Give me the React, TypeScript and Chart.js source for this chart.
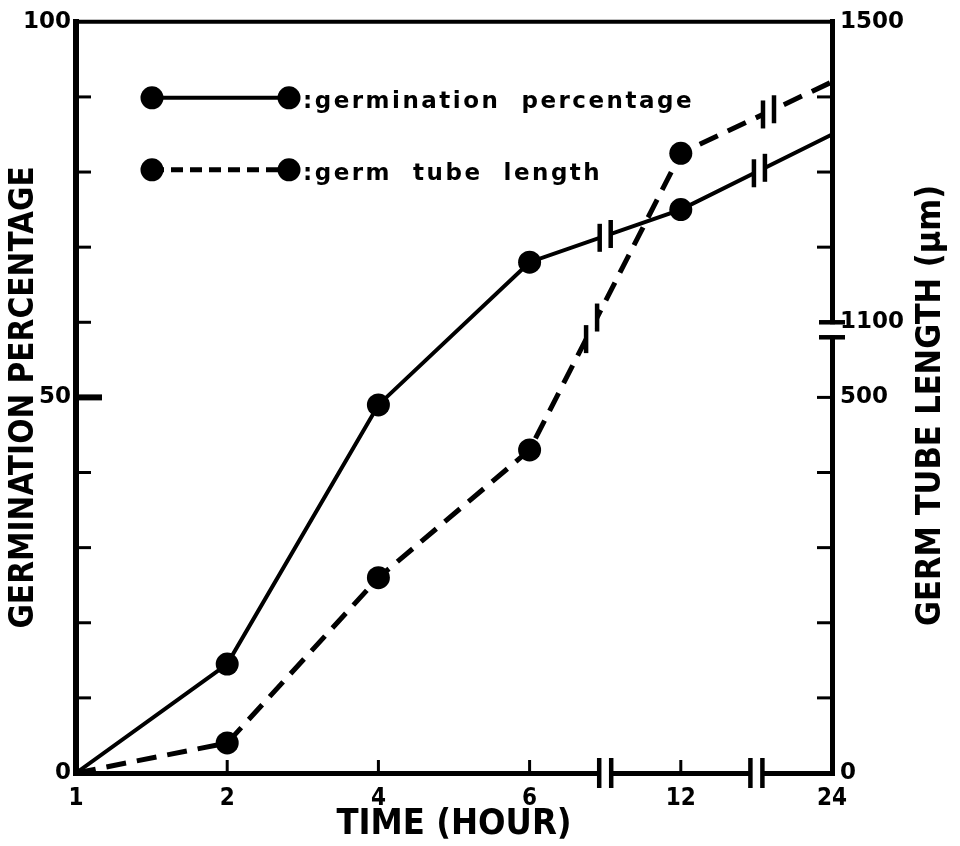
import React, { useEffect, useRef } from 'react';
import { Chart, registerables } from 'chart.js';

Chart.register(...registerables);

// ---- data ----
const hours = ['1', '2', '4', '6', '12', '24'];
const germinationPercentage = [0, 14.5, 49, 68, 75, 85];
const germTubeLength = [0, 40, 260, 430, 1325, 1420]; // µm
const percentTickLabels = [0, 50, 100];
const lengthTickLabels = [0, 500, 1100, 1500];
const lengthAxisBreak = [500, 1100]; // right axis jumps from 500 to 1100 µm
const timeAxisBreaksAfter = ['6', '12'];
const markerShown = [false, true, true, true, true, false];
const legendLabels = [':germination  percentage', ':germ  tube  length'];

// broken right axis: 100 µm per tick below 500 and above 1100
const toAxis = (v: number) =>
  v <= lengthAxisBreak[0]
    ? v / 100
    : v >= lengthAxisBreak[1]
    ? lengthAxisBreak[0] / 100 + 1 + (v - lengthAxisBreak[1]) / 100
    : lengthAxisBreak[0] / 100 + (v - lengthAxisBreak[0]) / (lengthAxisBreak[1] - lengthAxisBreak[0]);

// break marks on the curves: dataset, segment, fraction along segment
const curveBreaks = [
  { ds: 0, seg: 3, t: 0.5 },
  { ds: 0, seg: 4, t: 0.52 },
  { ds: 1, seg: 3, t: 0.41 },
  { ds: 1, seg: 4, t: 0.58 },
];

const BOLD = '"DejaVu Sans"';
const COND = '"DejaVu Sans Condensed", "DejaVu Sans"';

function seg(ctx: CanvasRenderingContext2D, x1: number, y1: number, x2: number, y2: number) {
  ctx.beginPath();
  ctx.moveTo(x1, y1);
  ctx.lineTo(x2, y2);
  ctx.stroke();
}

const decorPlugin = {
  id: 'decor',
  afterDraw(chart: any) {
    const { ctx, chartArea: a, scales } = chart;
    const xs = scales.x;
    const ys = scales.y;
    const yr = scales.y1;
    ctx.save();
    ctx.strokeStyle = '#000';
    ctx.fillStyle = '#000';
    ctx.lineCap = 'butt';

    // top frame
    ctx.lineWidth = 4;
    seg(ctx, a.left - 3, a.top, a.right + 2, a.top);

    // left inward ticks
    ys.ticks.forEach((t: any) => {
      if (t.value <= ys.min || t.value >= ys.max) return;
      const py = ys.getPixelForValue(t.value);
      const major = t.value === 50;
      ctx.lineWidth = major ? 6 : 3;
      seg(ctx, a.left, py, a.left + (major ? 26 : 15), py);
    });

    // right inward ticks
    const bp = toAxis(lengthAxisBreak[1]);
    yr.ticks.forEach((t: any) => {
      if (t.value <= yr.min || t.value >= yr.max || Math.abs(t.value - bp) < 1e-6) return;
      const py = yr.getPixelForValue(t.value);
      ctx.lineWidth = 3;
      seg(ctx, a.right, py, a.right - 15, py);
    });

    // bottom inward ticks
    xs.ticks.forEach((_t: any, i: number) => {
      if (i === 0 || i === xs.ticks.length - 1) return;
      const px = xs.getPixelForTick(i);
      ctx.lineWidth = 3;
      seg(ctx, px, a.bottom, px, a.bottom - 13);
    });

    // time axis breaks
    timeAxisBreaksAfter.forEach((h) => {
      const px = xs.getPixelForValue(hours.indexOf(h) + 0.5);
      ctx.fillStyle = '#fff';
      ctx.fillRect(px - 5, a.bottom - 4, 10, 8);
      ctx.lineWidth = 4.5;
      seg(ctx, px - 6, a.bottom - 15, px - 6, a.bottom + 15);
      seg(ctx, px + 6, a.bottom - 15, px + 6, a.bottom + 15);
    });

    // right axis break
    const pyHi = yr.getPixelForValue(bp);
    const pyLo = pyHi + 15;
    ctx.fillStyle = '#fff';
    ctx.fillRect(a.right - 4, pyHi + 2, 8, pyLo - pyHi - 4);
    ctx.lineWidth = 4.5;
    seg(ctx, a.right - 13, pyHi, a.right + 13, pyHi);
    seg(ctx, a.right - 13, pyLo, a.right + 13, pyLo);

    // curve breaks
    curveBreaks.forEach(({ ds, seg: s, t }) => {
      const pts = chart.getDatasetMeta(ds).data;
      const p0 = pts[s];
      const p1 = pts[s + 1];
      const m = (p1.y - p0.y) / (p1.x - p0.x);
      const cx = p0.x + t * (p1.x - p0.x);
      const cy = p0.y + t * (p1.y - p0.y);
      const g = 5.5;
      const yA = cy - m * g;
      const yB = cy + m * g;
      ctx.fillStyle = '#fff';
      ctx.beginPath();
      ctx.moveTo(cx - g + 1, yA - 8);
      ctx.lineTo(cx + g - 1, yB - 8);
      ctx.lineTo(cx + g - 1, yB + 8);
      ctx.lineTo(cx - g + 1, yA + 8);
      ctx.closePath();
      ctx.fill();
      ctx.lineWidth = 4.5;
      seg(ctx, cx - g, yA - 14, cx - g, yA + 14);
      seg(ctx, cx + g, yB - 14, cx + g, yB + 14);
    });

    // legend
    ctx.fillStyle = '#000';
    const lx0 = a.left + 76;
    const lx1 = a.left + 213;
    legendLabels.forEach((label, i) => {
      const ly = a.top + 76 + i * 72;
      ctx.lineWidth = i === 0 ? 4 : 5;
      ctx.setLineDash(i === 0 ? [] : [12, 7]);
      seg(ctx, lx0, ly, lx1, ly);
      ctx.setLineDash([]);
      [lx0, lx1].forEach((px) => {
        ctx.beginPath();
        ctx.arc(px, ly, 11.5, 0, Math.PI * 2);
        ctx.fill();
      });
      ctx.font = `bold 23px ${BOLD}`;
      (ctx as any).letterSpacing = '2.5px';
      ctx.textAlign = 'left';
      ctx.textBaseline = 'alphabetic';
      ctx.fillText(label, lx1 + 14, ly + 10);
      (ctx as any).letterSpacing = '0px';
    });

    // right axis title (reads bottom to top)
    ctx.translate(931, (a.top + a.bottom) / 2 + 8);
    ctx.rotate(-Math.PI / 2);
    ctx.font = `bold 34px ${COND}`;
    ctx.textAlign = 'center';
    ctx.textBaseline = 'middle';
    ctx.fillText('GERM TUBE LENGTH (µm)', 0, 0);
    ctx.restore();
  },
};

export default function App() {
  const ref = useRef<HTMLCanvasElement | null>(null);

  useEffect(() => {
    document.body.style.margin = '0';
    const canvas = ref.current;
    if (!canvas) return;
    const pointRadius = markerShown.map((s) => (s ? 11.5 : 0));
    const chart = new Chart(canvas, {
      type: 'line',
      data: {
        labels: hours,
        datasets: [
          {
            label: 'germination percentage',
            data: germinationPercentage,
            yAxisID: 'y',
            borderColor: '#000',
            backgroundColor: '#000',
            borderWidth: 4,
            pointRadius,
            pointBackgroundColor: '#000',
            pointBorderWidth: 0,
            tension: 0,
            fill: false,
          },
          {
            label: 'germ tube length',
            data: germTubeLength.map(toAxis),
            yAxisID: 'y1',
            borderColor: '#000',
            backgroundColor: '#000',
            borderWidth: 5,
            borderDash: [20, 11],
            pointRadius,
            pointBackgroundColor: '#000',
            pointBorderWidth: 0,
            tension: 0,
            fill: false,
          },
        ],
      },
      options: {
        responsive: false,
        animation: false,
        events: [],
        layout: { padding: { top: 17, left: 0, right: 0, bottom: 0 } },
        plugins: { legend: { display: false }, tooltip: { enabled: false } },
        scales: {
          x: {
            type: 'category',
            offset: false,
            grid: { display: false, drawTicks: false, lineWidth: 5 },
            border: { display: true, width: 5, color: '#000' },
            ticks: {
              color: '#000',
              padding: 11,
              maxRotation: 0,
              autoSkip: false,
              font: { family: COND, weight: 'bold', size: 24 },
            },
            title: {
              display: true,
              text: 'TIME (HOUR)',
              color: '#000',
              font: { family: COND, weight: 'bold', size: 36 },
              padding: { top: 0, bottom: 0 },
            },
            afterFit: (s: any) => {
              s.height = 73;
            },
          },
          y: {
            position: 'left',
            min: 0,
            max: 100,
            grid: { display: false, drawTicks: false, lineWidth: 5 },
            border: { display: true, width: 6, color: '#000' },
            ticks: {
              stepSize: 10,
              autoSkip: false,
              color: '#000',
              padding: 5,
              font: { family: BOLD, weight: 'bold', size: 23 },
              callback: (v: any) => (percentTickLabels.includes(Number(v)) ? String(v) : ''),
            },
            title: {
              display: true,
              text: 'GERMINATION PERCENTAGE',
              color: '#000',
              font: { family: COND, weight: 'bold', size: 33 },
              padding: { top: 5, bottom: 0 },
            },
            afterFit: (s: any) => {
              s.width = 76;
            },
          },
          y1: {
            position: 'right',
            min: 0,
            max: 10,
            grid: { display: false, drawTicks: false, lineWidth: 5 },
            border: { display: true, width: 5, color: '#000' },
            ticks: {
              stepSize: 1,
              autoSkip: false,
              color: '#000',
              padding: 8,
              font: { family: BOLD, weight: 'bold', size: 23 },
              callback: (v: any) => {
                const L = lengthTickLabels.find((l) => Math.abs(toAxis(l) - Number(v)) < 1e-6);
                return L === undefined ? '' : String(L);
              },
            },
            afterFit: (s: any) => {
              s.width = 128;
            },
          },
        },
      },
      plugins: [decorPlugin],
    });
    return () => chart.destroy();
  }, []);

  return (
    <div style={{ position: 'absolute', left: 0, top: 0, width: 960, height: 846, background: '#fff' }}>
      <canvas ref={ref} width={960} height={846} style={{ width: 960, height: 846, display: 'block' }} />
    </div>
  );
}
